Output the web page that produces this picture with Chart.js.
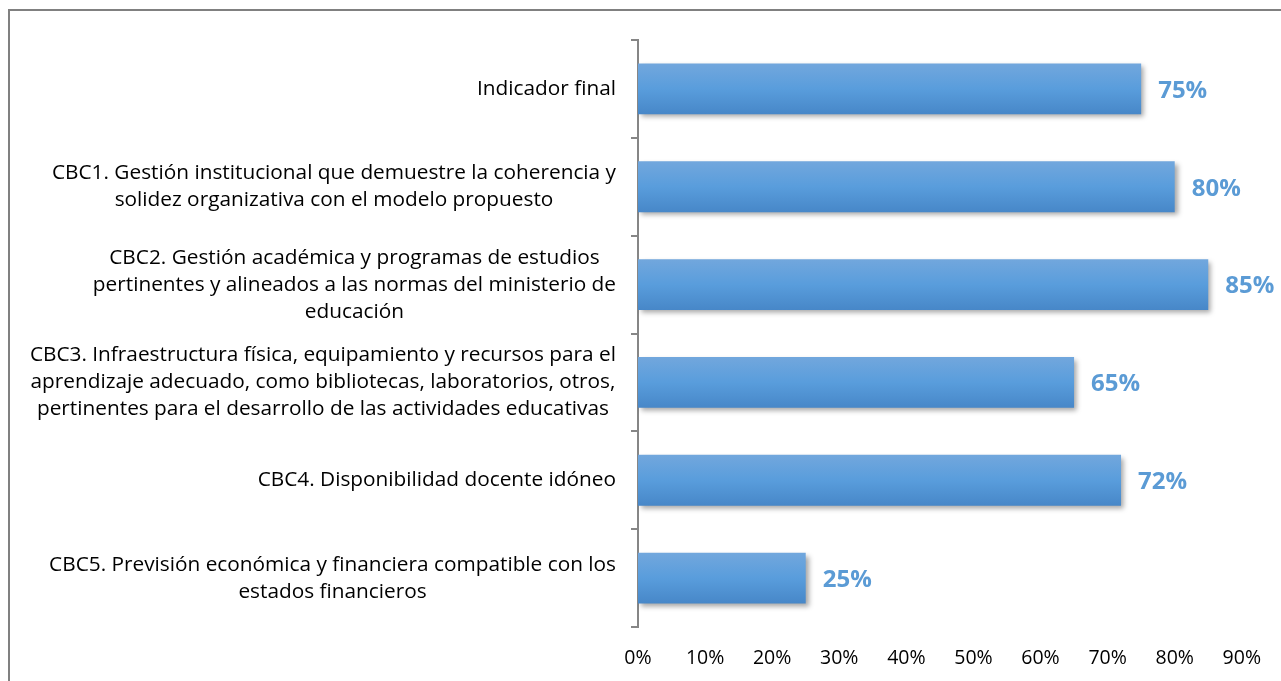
<!DOCTYPE html>
<html>

<head>
    <title>Indicadores CBC</title>
    <script src="https://cdn.jsdelivr.net/npm/chart.js"></script>
    <style>
        html, body { margin: 0; padding: 0; background: #fff; }
        #wrap { width: 1281px; height: 681px; position: relative; }
    </style>
</head>

<body>
    <div id="wrap">
        <canvas id="cbcChart" width="1281" height="681"></canvas>
    </div>

    <script>
        // categorías (cada una en varias líneas)
        var categorias = [
            ['Indicador final'],
            ['CBC1. Gestión institucional que demuestre la coherencia y', 'solidez organizativa con el modelo propuesto'],
            ['CBC2. Gestión académica y programas de estudios', 'pertinentes y alineados a las normas del ministerio de', 'educación'],
            ['CBC3. Infraestructura física, equipamiento y recursos para el', 'aprendizaje adecuado, como bibliotecas, laboratorios, otros,', 'pertinentes para el desarrollo de las actividades educativas'],
            ['CBC4. Disponibilidad docente idóneo'],
            ['CBC5. Previsión económica y financiera compatible con los', 'estados financieros']
        ];
        var porcentajes = [75, 80, 85, 65, 72, 25];
        var etiquetasX = ['0%', '10%', '20%', '30%', '40%', '50%', '60%', '70%', '80%', '90%'];

        var FUENTE = '"Open Sans", Lato, sans-serif';

        // marco gris del gráfico
        var marco = {
            id: 'marco',
            beforeDraw: function (chart) {
                var c = chart.ctx;
                c.save();
                c.fillStyle = '#808080';
                c.fillRect(8, 9, 2, chart.height);
                c.fillRect(8, 9, chart.width, 2);
                c.restore();
            }
        };

        // sombra de las barras
        var sombra = {
            id: 'sombra',
            beforeDatasetDraw: function (chart) {
                var c = chart.ctx;
                c.save();
                c.shadowColor = 'rgba(0,0,0,0.35)';
                c.shadowBlur = 5;
                c.shadowOffsetX = 3;
                c.shadowOffsetY = 3;
            },
            afterDatasetDraw: function (chart) {
                chart.ctx.restore();
            }
        };

        // etiquetas del eje Y: bloque alineado a la derecha, líneas centradas
        var etiquetasY = {
            id: 'etiquetasY',
            afterDraw: function (chart) {
                var c = chart.ctx;
                var y = chart.scales.y;
                var derecha = 616;
                var alto = 27;
                c.save();
                c.font = '20.8px ' + FUENTE;
                c.fillStyle = '#000';
                c.textAlign = 'center';
                c.textBaseline = 'middle';
                categorias.forEach(function (lineas, i) {
                    var ancho = Math.max.apply(null, lineas.map(function (l) { return c.measureText(l).width; }));
                    var cx = derecha - ancho / 2;
                    var cy = y.getPixelForTick(i) - (lineas.length - 1) * alto / 2;
                    lineas.forEach(function (l, k) {
                        c.fillText(l, cx, cy + k * alto);
                    });
                });
                c.restore();
            }
        };

        // valores al final de cada barra
        var valores = {
            id: 'valores',
            afterDatasetsDraw: function (chart) {
                var c = chart.ctx;
                var meta = chart.getDatasetMeta(0);
                c.save();
                c.font = 'bold 24px ' + FUENTE;
                c.fillStyle = '#5b9bd5';
                c.textAlign = 'left';
                c.textBaseline = 'middle';
                meta.data.forEach(function (bar, i) {
                    c.fillText(porcentajes[i] + '%', bar.x + 17, bar.y + 2);
                });
                c.restore();
            }
        };

        function degradado(ctx) {
            var chart = ctx.chart;
            var y = chart.scales.y;
            if (!y || ctx.dataIndex === undefined) return '#5b9bd5';
            var centro = y.getPixelForTick(ctx.dataIndex);
            var medio = (y.height / categorias.length) * 0.52 / 2;
            if (!isFinite(centro) || !isFinite(medio) || medio <= 0) return '#5b9bd5';
            var g = chart.ctx.createLinearGradient(0, centro - medio, 0, centro + medio);
            g.addColorStop(0, '#72a7dd');
            g.addColorStop(0.5, '#599ddc');
            g.addColorStop(1, '#4787c8');
            return g;
        }

        var ctx = document.getElementById('cbcChart').getContext('2d');
        new Chart(ctx, {
            type: 'bar',
            data: {
                labels: categorias,
                datasets: [{
                    data: porcentajes,
                    backgroundColor: degradado,
                    borderWidth: 0,
                    categoryPercentage: 1,
                    barPercentage: 0.52
                }]
            },
            options: {
                indexAxis: 'y',
                responsive: false,
                animation: false,
                layout: { padding: { top: 40, right: 38, left: 0, bottom: 0 } },
                plugins: {
                    legend: { display: false },
                    tooltip: { enabled: false }
                },
                scales: {
                    x: {
                        min: 0,
                        max: 90,
                        ticks: {
                            stepSize: 10,
                            padding: 20,
                            color: '#000',
                            font: { family: FUENTE, size: 19.5 },
                            callback: function (v, i) { return etiquetasX[i]; }
                        },
                        grid: { display: false, drawTicks: false },
                        border: { display: false },
                        afterFit: function (s) { s.height = 54; }
                    },
                    y: {
                        offset: true,
                        ticks: { display: false },
                        grid: {
                            offset: true,
                            drawOnChartArea: false,
                            drawTicks: true,
                            tickLength: 7,
                            color: '#868686',
                            lineWidth: 2
                        },
                        border: { display: true, color: '#868686', width: 2 },
                        afterFit: function (s) { s.width = 638; }
                    }
                }
            },
            plugins: [marco, sombra, etiquetasY, valores]
        });
    </script>

</body>

</html>
